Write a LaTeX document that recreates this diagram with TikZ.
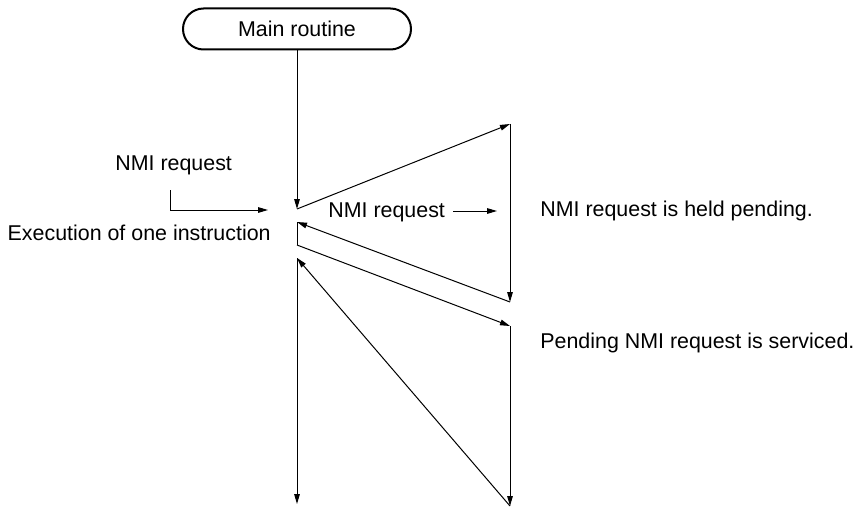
\documentclass[tikz,border=0pt]{standalone}
\usepackage{fontspec}
\setmainfont{Liberation Sans}
\usetikzlibrary{arrows.meta,shapes.misc}
\begin{document}
\begin{tikzpicture}[x=0.5pt,y=-0.5pt,
  lbl/.style={font=\fontsize{10.7}{13}\selectfont, inner sep=0pt},
  conn/.style={line width=0.5pt, -{Triangle[length=5pt,width=2.8pt]}},
  plainline/.style={line width=0.5pt}]
\useasboundingbox (0,0) rectangle (856,508);
\node[rounded rectangle, draw, line width=1pt, minimum width=114pt, minimum height=20.5pt, lbl] (main) at (297,29) {Main routine};
\coordinate (a1) at (297,209);
\coordinate (b1) at (510,124);
\coordinate (b2) at (510,302);
\coordinate (a2) at (297,222);
\coordinate (a3) at (297,245);
\coordinate (b3) at (510,326);
\coordinate (b4) at (510,506);
\coordinate (a4) at (297,258);
\coordinate (a5) at (297,504);
\draw[conn] (main.south) -- (a1);
\draw[conn] (a1) -- (b1);
\draw[conn] (b1) -- (b2);
\draw[conn] (b2) -- (a2);
\draw[plainline] (a2) -- (a3);
\draw[conn] (a3) -- (b3);
\draw[conn] (b3) -- (b4);
\draw[conn] (b4) -- (a4);
\draw[conn] (a4) -- (a5);
% texts
\node[lbl, anchor=base west] (nmi1) at (115,170) {NMI request};
\node[lbl, anchor=base east] (exec) at (271,240) {Execution of one instruction};
\node[lbl, anchor=base west] (nmi2) at (328,217) {NMI request};
\node[lbl, anchor=base west] (held) at (540,216) {NMI request is held pending.};
\node[lbl, anchor=base west] (serv) at (540,348) {Pending NMI request is serviced.};
\coordinate (c1) at (170,190);
\coordinate (c2) at (268,210);
\draw[conn] (c1) |- (c2);
\coordinate (d1) at (453,211);
\coordinate (d2) at (497,211);
\draw[conn] (d1) -- (d2);
\end{tikzpicture}
\end{document}
